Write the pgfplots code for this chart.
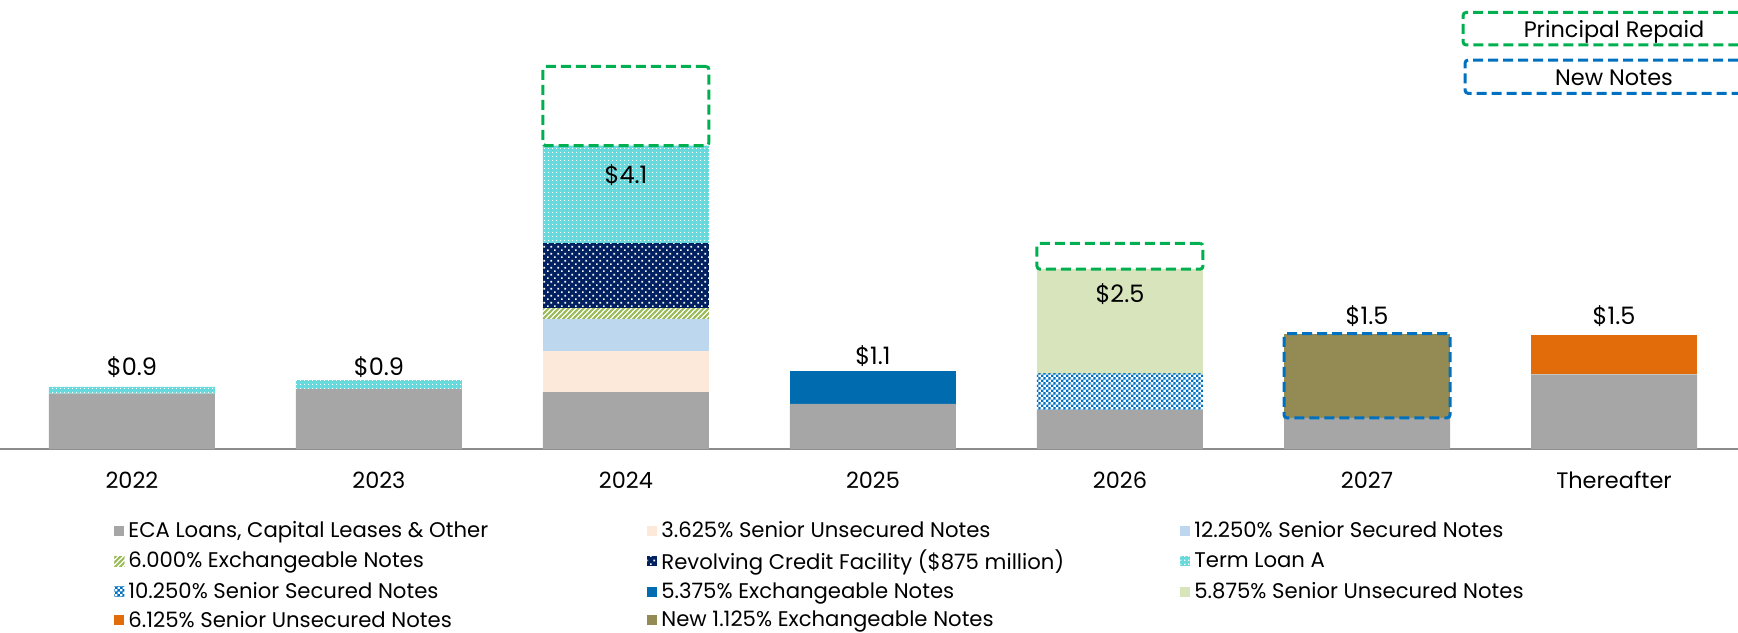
\documentclass[border=0pt]{standalone}
\usepackage{pgfplots}
\pgfplotsset{compat=1.18}
\usepackage{fontspec}
\setmainfont{Poppins}
\usetikzlibrary{patterns}

\definecolor{ecagray}{HTML}{A6A6A6}
\definecolor{peach}{HTML}{FDE9D9}
\definecolor{ltblue}{HTML}{BDD7EE}
\definecolor{hatchgreen}{HTML}{9BBB59}
\definecolor{navy}{HTML}{002060}
\definecolor{tlcyan}{HTML}{66D9DC}
\definecolor{checkblue}{HTML}{0070C0}
\definecolor{exblue}{HTML}{006BAE}
\definecolor{ltgreen}{HTML}{D8E4BC}
\definecolor{orange1}{HTML}{E26B0A}
\definecolor{olive1}{HTML}{948A54}
\definecolor{boxgreen}{HTML}{00B050}
\definecolor{boxblue}{HTML}{0070C0}
\definecolor{axisgray}{HTML}{8C8C8C}

\pgfdeclarepatternformonly{tldots}{\pgfpointorigin}{\pgfpoint{2pt}{2pt}}{\pgfpoint{2pt}{2pt}}%
  {\pgfpathrectangle{\pgfpointorigin}{\pgfpoint{0.75pt}{0.75pt}}\pgfusepath{fill}}
\pgfdeclarepatternformonly{navydots}{\pgfpointorigin}{\pgfpoint{3.7pt}{3.7pt}}{\pgfpoint{3.7pt}{3.7pt}}%
  {\pgfpathrectangle{\pgfpointorigin}{\pgfpoint{0.9pt}{0.9pt}}%
   \pgfpathrectangle{\pgfpoint{1.85pt}{1.85pt}}{\pgfpoint{0.9pt}{0.9pt}}\pgfusepath{fill}}
\pgfdeclarepatternformonly{checker}{\pgfpointorigin}{\pgfpoint{2.4pt}{2.4pt}}{\pgfpoint{2.4pt}{2.4pt}}%
  {\pgfpathrectangle{\pgfpointorigin}{\pgfpoint{1.25pt}{1.25pt}}%
   \pgfpathrectangle{\pgfpoint{1.2pt}{1.2pt}}{\pgfpoint{1.25pt}{1.25pt}}\pgfusepath{fill}}
\pgfdeclarepatternformonly{nehatch}{\pgfpoint{-1pt}{-1pt}}{\pgfpoint{3.5pt}{3.5pt}}{\pgfpoint{2.5pt}{2.5pt}}%
  {\pgfsetlinewidth{0.9pt}\pgfpathmoveto{\pgfpoint{-0.5pt}{-0.5pt}}\pgfpathlineto{\pgfpoint{3pt}{3pt}}\pgfusepath{stroke}}

\newcommand{\LE}[1]{\makebox[257.5pt][l]{#1}}
\newcommand{\fs}{\fontsize{11.2}{13}\selectfont}
\newcommand{\fl}{\fontsize{10.6}{12.5}\selectfont}
\newcommand{\fd}{\fontsize{12}{14}\selectfont}

\pgfplotstableread{
x  eca   s3625 s12250 e6000 rcf  tla  s10250 e5375 s5875 s6125 n1125
0  0.75  0     0      0     0    0.09 0      0     0     0     0
1  0.81  0     0      0     0    0.12 0      0     0     0     0
2  0.77  0.55  0.44   0.14  0.88 1.32 0      0     0     0     0
3  0.61  0     0      0     0    0    0      0.44  0     0     0
4  0.53  0     0      0     0    0    0.49   0     1.41  0     0
5  0.42  0     0      0     0    0    0      0     0     0     1.14
6  1.01  0     0      0     0    0    0      0     0     0.53  0
}\debt

\pgfplotstableread{
x base repaid
2 4.10 1.07
4 2.43 0.35
}\repaid

\pgfplotstableread{
x base new
5 0.42 1.14
}\newnotes

\pgfplotsset{
  common/.style={
    at={(0,0)}, anchor=south west,
    scale only axis, width=869pt, height=224.5pt,
    xmin=-0.534, xmax=6.502, ymin=0, ymax=6.068,
    ybar stacked, bar width=83pt,
  },
  boxstyle/.style={line width=1.5pt, dash pattern=on 5pt off 2.5pt, rounded corners=1.5pt, fill=none},
}

\begin{document}
\begin{tikzpicture}
\begin{axis}[
  common,
  axis y line=none, axis x line*=bottom,
  x axis line style={axisgray, line width=1pt, -},
  xtick={0,1,2,3,4,5,6},
  xticklabels={2022,2023,2024,2025,2026,2027,Thereafter},
  major tick length=0pt,
  xticklabel style={font=\fs, anchor=center, yshift=-15.5pt},
  legend columns=3,
  legend style={draw=none, fill=none, at={(0,0)}, anchor=north west,
    xshift=57pt, yshift=-33.8pt, font=\fl, inner sep=0pt, row sep=0.8pt,
    /tikz/every even column/.append style={column sep=0pt}},
  legend image code/.code={\fill[#1] (0pt,-2.5pt) rectangle (5pt,2.5pt);},
]
\addplot[fill=ecagray, draw=none] table[x=x, y=eca] {\debt};
\addlegendentry{\LE{ECA Loans, Capital Leases \& Other}}
\addplot[fill=peach, draw=none] table[x=x, y=s3625] {\debt};
\addlegendentry{\LE{3.625\% Senior Unsecured Notes}}
\addplot[fill=ltblue, draw=none] table[x=x, y=s12250] {\debt};
\addlegendentry{\LE{12.250\% Senior Secured Notes}}
\addplot[fill=white, draw=none, postaction={pattern=nehatch, pattern color=hatchgreen}] table[x=x, y=e6000] {\debt};
\addlegendentry{\LE{6.000\% Exchangeable Notes}}
\addplot[fill=navy, draw=none, postaction={pattern=navydots, pattern color=white}] table[x=x, y=rcf] {\debt};
\addlegendentry{\LE{Revolving Credit Facility (\$875 million)}}
\addplot[fill=tlcyan, draw=none, postaction={pattern=tldots, pattern color=white}] table[x=x, y=tla] {\debt};
\addlegendentry{\LE{Term Loan A}}
\addplot[fill=white, draw=none, postaction={pattern=checker, pattern color=checkblue}] table[x=x, y=s10250] {\debt};
\addlegendentry{\LE{10.250\% Senior Secured Notes}}
\addplot[fill=exblue, draw=none] table[x=x, y=e5375] {\debt};
\addlegendentry{\LE{5.375\% Exchangeable Notes}}
\addplot[fill=ltgreen, draw=none] table[x=x, y=s5875] {\debt};
\addlegendentry{\LE{5.875\% Senior Unsecured Notes}}
\addplot[fill=orange1, draw=none] table[x=x, y=s6125] {\debt};
\addlegendentry{\LE{6.125\% Senior Unsecured Notes}}
\addplot[fill=olive1, draw=none] table[x=x, y=n1125] {\debt};
\addlegendentry{\LE{New 1.125\% Exchangeable Notes}}
\end{axis}

\begin{axis}[common, hide axis]
\addplot[draw=none, fill=none] table[x=x, y=base] {\repaid};
\addplot[boxstyle, draw=boxgreen] table[x=x, y=repaid] {\repaid};
\end{axis}

\begin{axis}[common, hide axis]
\addplot[draw=none, fill=none] table[x=x, y=base] {\newnotes};
\addplot[boxstyle, draw=boxblue] table[x=x, y=new] {\newnotes};
\draw[boxgreen, line width=1.5pt, dash pattern=on 5pt off 2.5pt, rounded corners=1.5pt]
  (axis cs:6.502,5.90) -- (axis cs:5.389,5.90) -- (axis cs:5.389,5.46) -- (axis cs:6.502,5.46);
\node[font=\fs, anchor=base] at (axis cs:6.0,5.564) {Principal Repaid};
\draw[boxblue, line width=1.5pt, dash pattern=on 5pt off 2.5pt, rounded corners=1.5pt]
  (axis cs:6.502,5.257) -- (axis cs:5.397,5.257) -- (axis cs:5.397,4.807) -- (axis cs:6.502,4.807);
\node[font=\fs, anchor=base] at (axis cs:6.0,4.919) {New Notes};
\node[font=\fd] at (axis cs:0,1.11) {\$0.9};
\node[font=\fd] at (axis cs:1,1.11) {\$0.9};
\node[font=\fd] at (axis cs:2,3.70) {\$4.1};
\node[font=\fd] at (axis cs:3,1.26) {\$1.1};
\node[font=\fd] at (axis cs:4,2.10) {\$2.5};
\node[font=\fd] at (axis cs:5,1.80) {\$1.5};
\node[font=\fd] at (axis cs:6,1.80) {\$1.5};
\end{axis}

\pgfresetboundingbox
\path[use as bounding box] (0pt,-91.5pt) rectangle (869pt,224.5pt);
\end{tikzpicture}
\end{document}
